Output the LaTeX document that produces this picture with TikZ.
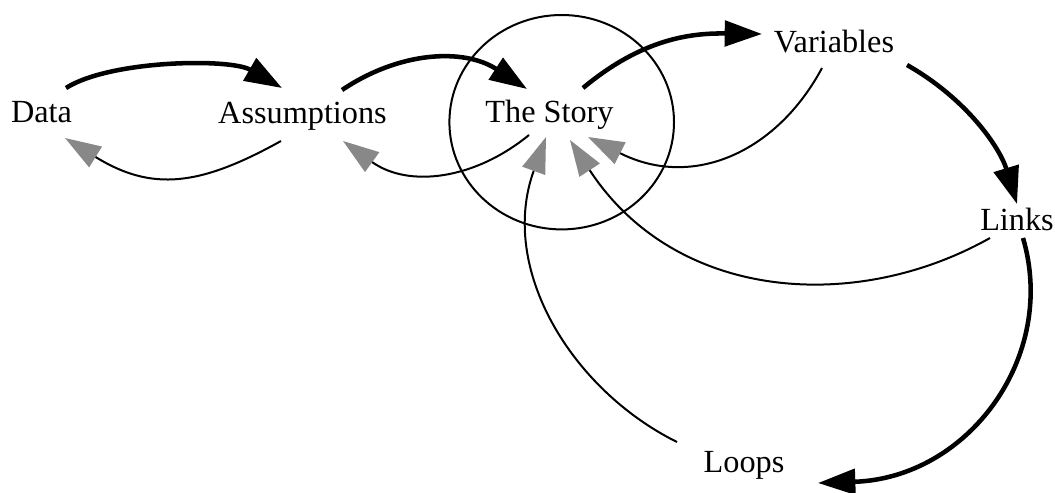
\documentclass[tikz,border=0pt]{standalone}
\usepackage{fontspec}
\setmainfont{Liberation Serif}
\usetikzlibrary{arrows.meta}
\definecolor{headgray}{RGB}{136,136,136}

\begin{document}
\begin{tikzpicture}[x=0.75pt,y=0.75pt,yscale=-1,xscale=1,
  label/.style={anchor=base,inner sep=0.75pt,font=\fontsize{24.2}{29}\selectfont},
  thickarrow/.style={line width=3.4pt,-{Triangle[length=28pt,width=19pt]}},
  thinarrow/.style={line width=1.5pt,-{Triangle[length=27pt,width=18pt,color=headgray]}}]
\useasboundingbox (0,0) rectangle (1055,492);

% Text Node
\node [label] (data) at (41.5,122) {Data};
% Text Node
\node [label] (assump) at (302.5,123) {Assumptions};
% Text Node
\node [label] (story) at (549.5,122) {The Story};
% Text Node
\node [label] (variables) at (834,53) {Variables};
% Text Node
\node [label] (links) at (1017,230) {Links};
% Text Node
\node [label] (loops) at (744,472) {Loops};

%Shape: Circle
\draw [line width=1.5pt] (561.7,122.2) ellipse [x radius=112.3, y radius=107.2];

%Curve Lines
\draw [thickarrow] ([shift={(24.5,-34)}]data.base) .. controls +(44,-28) and +(-52,-30) .. ([shift={(-20.5,-35)}]assump.base);
%Curve Lines
\draw [thinarrow] ([shift={(-21.5,18)}]assump.base) .. controls +(-81,45) and +(87,54) .. ([shift={(23.5,16)}]data.base);
%Curve Lines
\draw [thickarrow] ([shift={(39.5,-33)}]assump.base) .. controls +(58,-39) and +(-63,-41) .. ([shift={(-22.5,-33)}]story.base);
%Curve Lines
\draw [thinarrow] ([shift={(-20.5,13)}]story.base) .. controls +(-55,45) and +(65,47) .. ([shift={(40.5,18)}]assump.base);
%Curve Lines
\draw [thickarrow] ([shift={(33.5,-34)}]story.base) .. controls +(60,-50) and +(-70,-1) .. ([shift={(-72,-19)}]variables.base);
%Curve Lines
\draw [thinarrow] ([shift={(-12,15)}]variables.base) .. controls +(-45,84) and +(105,53) .. ([shift={(38.5,15)}]story.base);
%Curve Lines
\draw [thickarrow] ([shift={(73,12)}]variables.base) .. controls +(60,34) and +(-17,-56) .. ([shift={(0,-26)}]links.base);
%Curve Lines
\draw [thinarrow] ([shift={(-27,8)}]links.base) .. controls +(-135,76) and +(105,161) .. ([shift={(20.5,18)}]story.base);
%Curve Lines
\draw [thickarrow] ([shift={(6,8)}]links.base) .. controls +(35,119) and +(150,-5) .. ([shift={(74,11)}]loops.base);
%Curve Lines
\draw [thinarrow] ([shift={(-67,-30)}]loops.base) .. controls +(-105,-52) and +(-48,132) .. ([shift={(-3.5,15)}]story.base);

\end{tikzpicture}
\end{document}
